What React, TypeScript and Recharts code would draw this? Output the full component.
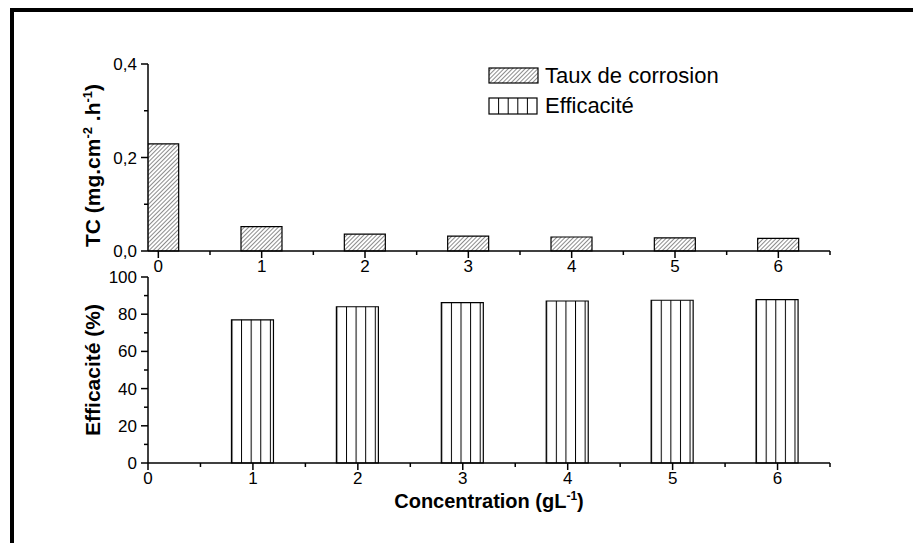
import React from 'react';
import { BarChart, Bar, XAxis, YAxis, Legend, Label } from 'recharts';

const concentrations = [0, 1, 2, 3, 4, 5, 6];
const tauxCorrosion = [0.229, 0.052, 0.036, 0.032, 0.030, 0.028, 0.027];
const effConcentrations = [1, 2, 3, 4, 5, 6];
const efficacite = [77.0, 84.0, 86.2, 87.1, 87.5, 87.8];
const xTicks = [0, 0.5, 1, 1.5, 2, 2.5, 3, 3.5, 4, 4.5, 5, 5.5, 6, 6.5];
const tcTicks = [0, 0.1, 0.2, 0.3, 0.4];
const effTicks = [0, 10, 20, 30, 40, 50, 60, 70, 80, 90, 100];
const seriesNames = ['Taux de corrosion', 'Efficacité'];

const FONT = "'Liberation Sans', Arial, Helvetica, sans-serif";
const TICK_FS = 17;
const TITLE_FS = 21;

const topData = concentrations.map((c, i) => ({ conc: c, tc: tauxCorrosion[i] }));
const bottomData = effConcentrations.map((c, i) => ({ conc: c, eff: efficacite[i] }));

const XTick = (props: any) => {
  const { x, y, payload } = props;
  const v = payload.value;
  const major = Number.isInteger(v);
  return (
    <g>
      <line x1={x} x2={x} y1={y} y2={y + (major ? 7 : 4)} stroke="#000" strokeWidth={1.5} />
      {major && (
        <text x={x} y={y + 21} textAnchor="middle" fontSize={TICK_FS} fontFamily={FONT} fill="#000">
          {String(v)}
        </text>
      )}
    </g>
  );
};

const TcTick = (props: any) => {
  const { x, y, payload } = props;
  const v = payload.value;
  const major = Math.round(v * 10) % 2 === 0;
  return (
    <g>
      <line x1={x} x2={x - (major ? 7 : 4)} y1={y} y2={y} stroke="#000" strokeWidth={1.5} />
      {major && (
        <text x={x - 11} y={y + 6} textAnchor="end" fontSize={TICK_FS} fontFamily={FONT} fill="#000">
          {v.toFixed(1).replace('.', ',')}
        </text>
      )}
    </g>
  );
};

const EffTick = (props: any) => {
  const { x, y, payload } = props;
  const v = payload.value;
  const major = v % 20 === 0;
  return (
    <g>
      <line x1={x} x2={x - (major ? 7 : 4)} y1={y} y2={y} stroke="#000" strokeWidth={1.5} />
      {major && (
        <text x={x - 11} y={y + 6} textAnchor="end" fontSize={TICK_FS} fontFamily={FONT} fill="#000">
          {String(v)}
        </text>
      )}
    </g>
  );
};

const TcTitle = (props: any) => {
  const { viewBox } = props;
  const cx = viewBox.x + 12;
  const cy = viewBox.y + viewBox.height / 2 + 8;
  return (
    <text x={cx} y={cy} transform={`rotate(-90 ${cx} ${cy})`} textAnchor="middle" fontSize={TITLE_FS} fontWeight="bold" fontFamily={FONT} fill="#000">
      TC (mg.cm<tspan dy={-8} fontSize={13}>-2</tspan><tspan dy={8}> .h</tspan><tspan dy={-8} fontSize={13}>-1</tspan><tspan dy={8}>)</tspan>
    </text>
  );
};

const EffTitle = (props: any) => {
  const { viewBox } = props;
  const cx = viewBox.x + 12;
  const cy = viewBox.y + viewBox.height / 2;
  return (
    <text x={cx} y={cy} transform={`rotate(-90 ${cx} ${cy})`} textAnchor="middle" fontSize={TITLE_FS} fontWeight="bold" fontFamily={FONT} fill="#000">
      Efficacité (%)
    </text>
  );
};

const ConcTitle = (props: any) => {
  const { viewBox } = props;
  const cx = viewBox.x + viewBox.width / 2;
  const cy = viewBox.y + 45;
  return (
    <text x={cx} y={cy} textAnchor="middle" fontSize={20} fontWeight="bold" fontFamily={FONT} fill="#000">
      Concentration (gL<tspan dy={-8} fontSize={12}>-1</tspan><tspan dy={8}>)</tspan>
    </text>
  );
};

const renderLegend = () => (
  <div style={{ fontFamily: FONT, fontSize: 22, color: '#000', lineHeight: '30px' }}>
    <div style={{ display: 'flex', alignItems: 'center', height: 30 }}>
      <svg width={52} height={18} style={{ marginRight: 5 }}>
        <defs>
          <pattern id="legHatch" patternUnits="userSpaceOnUse" width={3} height={3} patternTransform="rotate(45)">
            <line x1={0} y1={0} x2={0} y2={3} stroke="#000" strokeWidth={0.9} />
          </pattern>
        </defs>
        <rect x={1} y={1} width={49} height={15} fill="url(#legHatch)" stroke="#000" strokeWidth={1.2} />
      </svg>
      <span>{seriesNames[0]}</span>
    </div>
    <div style={{ display: 'flex', alignItems: 'center', height: 30 }}>
      <svg width={52} height={18} style={{ marginRight: 5 }}>
        <rect x={1} y={1} width={48} height={16} fill="#fff" stroke="#000" strokeWidth={1.2} />
        {[1, 2, 3, 4].map((k) => (
          <line key={k} x1={1 + k * 9.6} x2={1 + k * 9.6} y1={1} y2={17} stroke="#000" strokeWidth={1} />
        ))}
      </svg>
      <span>{seriesNames[1]}</span>
    </div>
  </div>
);

export default function App() {
  return (
    <div style={{ position: 'absolute', left: 0, top: 0, width: 913, height: 543, background: '#fff', overflow: 'hidden' }}>
      <div style={{ position: 'absolute', left: 10, top: 8, width: 903, height: 535, borderLeft: '4px solid #000', borderTop: '4px solid #000', boxSizing: 'border-box' }} />
      <div style={{ position: 'absolute', left: 0, top: 0 }}>
        <BarChart width={913} height={543} data={topData} margin={{ top: 64, right: 83, left: 88, bottom: 232 }}>
          <defs>
            <pattern id="hatchDiag" patternUnits="userSpaceOnUse" width={3} height={3} patternTransform="rotate(45)">
              <line x1={0} y1={0} x2={0} y2={3} stroke="#000" strokeWidth={0.9} />
            </pattern>
          </defs>
          <XAxis dataKey="conc" type="number" domain={[-0.1, 6.5]} ticks={xTicks} interval={0} allowDataOverflow height={60}
            tickSize={0} tickMargin={0} tick={<XTick />} axisLine={{ stroke: '#000', strokeWidth: 1.5 }} tickLine={false} />
          <YAxis type="number" domain={[0, 0.4]} ticks={tcTicks} interval={0} width={60}
            tickSize={0} tickMargin={0} tick={<TcTick />} axisLine={{ stroke: '#000', strokeWidth: 1.5 }} tickLine={false}>
            <Label content={<TcTitle />} />
          </YAxis>
          <Bar dataKey="tc" name={seriesNames[0]} fill="url(#hatchDiag)" stroke="#000" strokeWidth={1.2} barSize={41} isAnimationActive={false} />
          <Legend layout="vertical" verticalAlign="middle" align="center" content={renderLegend}
            wrapperStyle={{ position: 'absolute', left: 488, top: 61, width: 320, height: 60 }} />
        </BarChart>
      </div>
      <div style={{ position: 'absolute', left: 0, top: 0 }}>
        <BarChart width={913} height={543} data={bottomData} margin={{ top: 277, right: 83, left: 88, bottom: 20 }}>
          <defs>
            <pattern id="vertLines" patternUnits="objectBoundingBox" x={0} y={0} width={0.2286} height={1}>
              <line x1={0.5} y1={0} x2={0.5} y2={400} stroke="#000" strokeWidth={1} />
            </pattern>
          </defs>
          <XAxis dataKey="conc" type="number" domain={[0, 6.5]} ticks={xTicks} interval={0} allowDataOverflow height={60}
            tickSize={0} tickMargin={0} tick={<XTick />} axisLine={{ stroke: '#000', strokeWidth: 1.5 }} tickLine={false}>
            <Label content={<ConcTitle />} />
          </XAxis>
          <YAxis type="number" domain={[0, 100]} ticks={effTicks} interval={0} width={60}
            tickSize={0} tickMargin={0} tick={<EffTick />} axisLine={{ stroke: '#000', strokeWidth: 1.5 }} tickLine={false}>
            <Label content={<EffTitle />} />
          </YAxis>
          <Bar dataKey="eff" name={seriesNames[1]} fill="url(#vertLines)" stroke="#000" strokeWidth={1.2} barSize={42} isAnimationActive={false} />
        </BarChart>
      </div>
    </div>
  );
}
